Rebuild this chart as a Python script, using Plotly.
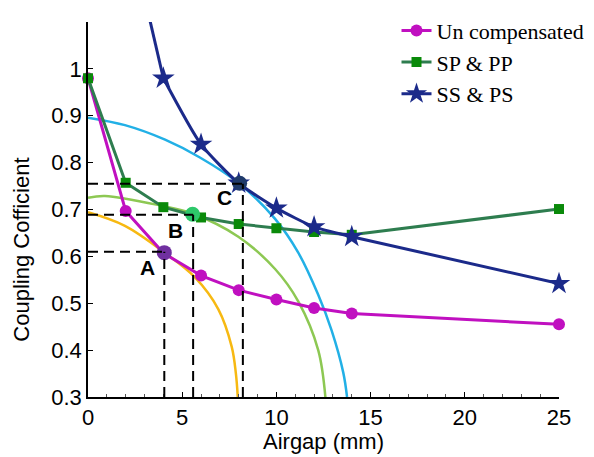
import plotly.graph_objects as go

# ---- series data ----
uncomp_x = [0, 2, 4, 6, 8, 10, 12, 14, 25]
uncomp_y = [0.98, 0.697, 0.607, 0.559, 0.528, 0.508, 0.490, 0.478, 0.455]

sppp_x = [0, 2, 4, 6, 8, 10, 12, 14, 25]
sppp_y = [0.98, 0.757, 0.705, 0.683, 0.669, 0.660, 0.652, 0.646, 0.701]

ssps_x = [4, 6, 8, 10, 12, 14, 25]
ssps_y = [0.98, 0.839, 0.756, 0.703, 0.663, 0.642, 0.542]
ssps_ext_x = [3.25, 4]
ssps_ext_y = [1.11, 0.98]

# ---- constant-coupling arcs ----
arc_yellow_x = [0, 1.96, 4.09, 5.68, 6.92, 7.63, 7.85, 7.95]
arc_yellow_y = [0.694, 0.665, 0.607, 0.555, 0.487, 0.407, 0.35, 0.30]

arc_lgreen_x = [0, 0.9, 3.91, 5.5, 7.98, 9.93, 11.16, 12.22, 12.6]
arc_lgreen_y = [0.725, 0.729, 0.708, 0.692, 0.642, 0.573, 0.504, 0.40, 0.30]

arc_cyan_x = [0, 1.96, 4.09, 5.94, 8.01, 9.93, 11.16, 12.22, 12.93, 13.55, 13.75]
arc_cyan_y = [0.896, 0.88, 0.849, 0.811, 0.756, 0.68, 0.608, 0.518, 0.442, 0.352, 0.30]

# ---- operating points A, B, C ----
pt_labels = ["A", "B", "C"]
pt_x = [4.05, 5.55, 8.05]
pt_y = [0.608, 0.690, 0.756]
guide_x = [4.05, 5.58, 8.22]
guide_y = [0.610, 0.689, 0.755]
label_x = [3.18, 4.62, 7.23]
label_y = [0.577, 0.656, 0.725]
pt_colors = ["#7030A0", "#2DC86A", "#1F3A6B"]

# ---- axes ----
x_range = [0, 25]
y_range = [0.3, 1.1]
x_ticks = [0, 5, 10, 15, 20, 25]
y_ticks = [0.3, 0.4, 0.5, 0.6, 0.7, 0.8, 0.9, 1.0, 1.1]
y_ticktext = ["0.3", "0.4", "0.5", "0.6", "0.7", "0.8", "0.9", "1", ""]

fig = go.Figure()

# arcs
for xs, ys, col in [(arc_yellow_x, arc_yellow_y, "#F7B912"),
                    (arc_lgreen_x, arc_lgreen_y, "#8DC853"),
                    (arc_cyan_x, arc_cyan_y, "#22B0E6")]:
    fig.add_trace(go.Scatter(x=xs, y=ys, mode="lines", showlegend=False,
                             line=dict(color=col, width=2.5, shape="spline", smoothing=1.0),
                             hoverinfo="skip"))

# series
fig.add_trace(go.Scatter(x=uncomp_x, y=uncomp_y, mode="lines+markers", name="Un compensated",
                         line=dict(color="#C010C0", width=3),
                         marker=dict(symbol="circle", size=12, color="#C010C0"),
                         cliponaxis=False))
fig.add_trace(go.Scatter(x=sppp_x, y=sppp_y, mode="lines+markers", name="SP &amp; PP",
                         line=dict(color="#2E7D4F", width=3),
                         marker=dict(symbol="square", size=10, color="#0A8A0A"),
                         cliponaxis=False))
fig.add_trace(go.Scatter(x=ssps_ext_x, y=ssps_ext_y, mode="lines", showlegend=False,
                         line=dict(color="#1B2A8A", width=3), hoverinfo="skip"))
fig.add_trace(go.Scatter(x=ssps_x, y=ssps_y, mode="lines+markers", name="SS &amp; PS",
                         line=dict(color="#1B2A8A", width=3, shape="spline", smoothing=0.6),
                         marker=dict(symbol="star", size=17, color="#1B2A8A"),
                         cliponaxis=False))

# guide lines
shapes = []
for gx, gy in zip(guide_x, guide_y):
    shapes.append(dict(type="line", xref="x", yref="y", x0=x_range[0], x1=gx, y0=gy, y1=gy,
                       line=dict(color="black", width=2, dash="10px,6px")))
    shapes.append(dict(type="line", xref="x", yref="y", x0=gx, x1=gx, y0=y_range[0], y1=gy,
                       line=dict(color="black", width=2, dash="10px,6px")))

# operating points
fig.add_trace(go.Scatter(x=pt_x, y=pt_y, mode="markers", showlegend=False,
                         marker=dict(size=15, color=pt_colors), cliponaxis=False))

annotations = []
for lx, ly, t in zip(label_x, label_y, pt_labels):
    annotations.append(dict(x=lx, y=ly, xref="x", yref="y", text="<b>%s</b>" % t,
                            showarrow=False, font=dict(family="Liberation Sans", size=21, color="black")))
annotations.append(dict(x=0.5, y=-0.118, xref="paper", yref="paper", yanchor="middle",
                        text="Airgap (mm)", showarrow=False,
                        font=dict(family="Liberation Sans", size=22, color="black")))
annotations.append(dict(x=-0.140, y=0.393, xref="paper", yref="paper", textangle=-90,
                        xanchor="center", yanchor="middle",
                        text="Coupling Cofficient", showarrow=False,
                        font=dict(family="Liberation Sans", size=22, color="black")))

fig.update_layout(
    width=586, height=449,
    margin=dict(l=80, r=35, t=2, b=60),
    plot_bgcolor="white", paper_bgcolor="white",
    shapes=shapes, annotations=annotations,
    legend=dict(x=0.655, y=1.033, xanchor="left", yanchor="top",
                font=dict(family="Liberation Serif", size=22, color="black"),
                bgcolor="rgba(255,255,255,0)", itemwidth=30, tracegroupgap=0),
    xaxis=dict(range=x_range, tickvals=x_ticks, showgrid=False, zeroline=False,
               showline=True, linecolor="black", linewidth=1.5, ticks="inside", ticklen=5,
               tickcolor="black", mirror=False,
               minor=dict(ticks="inside", ticklen=3, dtick=1, tickcolor="#555"),
               tickfont=dict(family="Liberation Sans", size=22, color="black")),
    yaxis=dict(range=y_range, tickvals=y_ticks, ticktext=y_ticktext, showgrid=False,
               zeroline=False, showline=True, linecolor="black", linewidth=1.5,
               ticks="inside", ticklen=5, tickcolor="black", mirror=False,
               tickfont=dict(family="Liberation Sans", size=22, color="black")),
)

fig.write_html("out.html")
